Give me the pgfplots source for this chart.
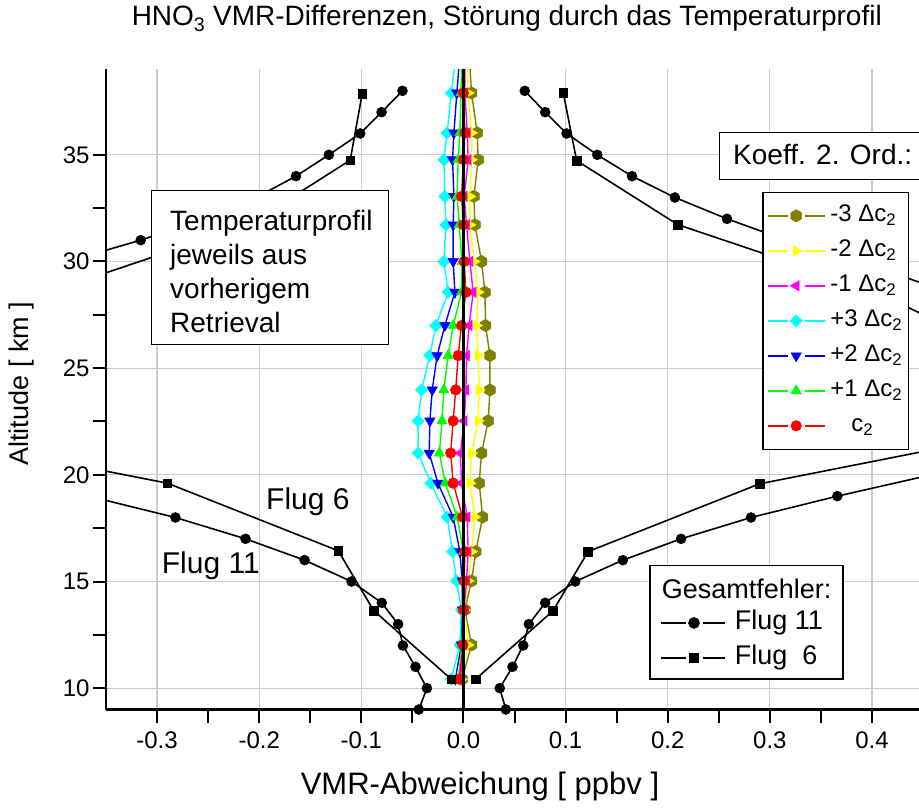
\documentclass[border=0pt]{standalone}
\usepackage{fontspec}
\setmainfont{Liberation Sans}
\setsansfont{Liberation Sans}
\usepackage{pgfplots}
\pgfplotsset{compat=1.18}
\usetikzlibrary{plotmarks}

\pgfdeclareplotmark{hexagon*}{%
  \pgfpathmoveto{\pgfqpointpolar{90}{\pgfplotmarksize}}%
  \pgfpathlineto{\pgfqpointpolar{150}{\pgfplotmarksize}}%
  \pgfpathlineto{\pgfqpointpolar{210}{\pgfplotmarksize}}%
  \pgfpathlineto{\pgfqpointpolar{270}{\pgfplotmarksize}}%
  \pgfpathlineto{\pgfqpointpolar{330}{\pgfplotmarksize}}%
  \pgfpathlineto{\pgfqpointpolar{30}{\pgfplotmarksize}}%
  \pgfpathclose
  \pgfusepathqfillstroke}

\definecolor{olivec}{RGB}{128,128,0}
\definecolor{yellowc}{RGB}{255,255,0}
\definecolor{magentac}{RGB}{255,0,255}
\definecolor{cyanc}{RGB}{0,255,255}
\definecolor{bluec}{RGB}{0,0,255}
\definecolor{greenc}{RGB}{0,255,0}
\definecolor{redc}{RGB}{255,0,0}

\begin{document}
\begin{tikzpicture}
\begin{axis}[
  at={(0pt,0pt)}, anchor=south west,
  scale only axis, width=813pt, height=640pt,
  xmin=-0.35, xmax=0.446, ymin=9, ymax=39,
  axis x line*=bottom, axis y line*=left,
  axis line style={line width=2.2pt},
  xtick={-0.3,-0.2,-0.1,0,0.1,0.2,0.3,0.4},
  xticklabels={-0.3,-0.2,-0.1,0.0,0.1,0.2,0.3,0.4},
  ytick={10,15,20,25,30,35},
  yticklabels={10,15,20,25,30,35},
  minor x tick num=1, minor y tick num=1,
  tick align=outside,
  major tick length=13pt, minor tick length=13pt,
  tick style={black, line width=2pt},
  grid=major,
  major grid style={line width=1.2pt, gray!40},
  tick label style={font=\fontsize{24}{28}\selectfont},
  xticklabel style={yshift=-6pt},
  xlabel={VMR-Abweichung [ ppbv ]},
  ylabel={Altitude [ km ]},
  xlabel style={at={(axis description cs:0.46,-0.12)}, anchor=center, font=\fontsize{31}{36}\selectfont},
  ylabel style={at={(axis description cs:-0.1033,0.509)}, anchor=center, font=\fontsize{27}{32}\selectfont},
  title={HNO\textsubscript{3} VMR-Differenzen, Störung durch das Temperaturprofil},
  title style={at={(axis description cs:0.493,1.07)}, anchor=center, font=\fontsize{28}{33}\selectfont},
  legend style={at={(axis description cs:0.8073,0.8091)}, anchor=north west,
    draw=black, line width=1.3pt, fill=white,
    inner xsep=4pt, inner ysep=10pt, row sep=8pt, column sep=3pt,
    font=\fontsize{24}{28}\selectfont,
    nodes={inner sep=2pt, text height=17pt, text depth=6pt},
    cells={anchor=west}},
  legend image code/.code={%
    \draw[mark=none] (0pt,0pt) -- (20pt,0pt);
    \draw[mark=none] (37pt,0pt) -- (57pt,0pt);
    \draw plot coordinates {(28.5pt,0pt)};
  },
]
% colored series
\addplot[color=olivec, line width=1.4pt, mark=hexagon*, mark size=6.2pt, mark options={solid, fill=olivec, line width=0.5pt}] coordinates {
(-0.0015,10.42)(0.0079,12.03)(0.0014,13.67)(0.0079,15.03)(0.0121,16.40)(0.0187,18.02)(0.0154,19.61)(0.0177,21.02)(0.0242,22.53)(0.0259,23.98)(0.0259,25.59)(0.0216,27.00)(0.0210,28.56)(0.0177,30.00)(0.0112,31.72)(0.0102,33.05)(0.0144,34.77)(0.0134,36.03)(0.0079,37.90)(0.0060,39.40)};
\addlegendentry{-3 Δc\textsubscript{2}}
\addplot[color=yellowc, line width=1.4pt, mark=triangle*, mark size=6pt, mark options={solid, fill=yellowc, rotate=-90, line width=0.5pt}] coordinates {
(-0.0020,10.42)(0.0046,12.03)(0.0010,13.67)(0.0046,15.03)(0.0079,16.40)(0.0112,18.02)(0.0063,19.61)(0.0079,21.02)(0.0144,22.53)(0.0154,23.98)(0.0144,25.59)(0.0128,27.00)(0.0144,28.56)(0.0105,30.00)(0.0063,31.72)(0.0063,33.05)(0.0079,34.77)(0.0080,36.03)(0.0045,37.90)(0.0040,39.40)};
\addlegendentry{-2 Δc\textsubscript{2}}
\addplot[color=magentac, line width=1.4pt, mark=triangle*, mark size=6pt, mark options={solid, fill=magentac, rotate=90, line width=0.5pt}] coordinates {
(-0.0030,10.42)(0.0000,12.03)(0.0005,13.67)(0.0030,15.03)(0.0046,16.40)(0.0036,18.02)(-0.0019,19.61)(-0.0030,21.02)(0.0007,22.53)(0.0024,23.98)(0.0030,25.59)(0.0056,27.00)(0.0095,28.56)(0.0063,30.00)(0.0030,31.72)(0.0007,33.05)(0.0046,34.77)(0.0037,36.03)(0.0014,37.90)(0.0015,39.40)};
\addlegendentry{-1 Δc\textsubscript{2}}
\addplot[color=cyanc, line width=1.4pt, mark=square*, mark size=4.3pt, mark options={solid, fill=cyanc, rotate=45, line width=0.5pt}] coordinates {
(-0.0120,10.42)(-0.0035,12.03)(-0.0020,13.67)(-0.0068,15.03)(-0.0107,16.40)(-0.0160,18.02)(-0.0320,19.61)(-0.0444,21.02)(-0.0444,22.53)(-0.0410,23.98)(-0.0330,25.59)(-0.0270,27.00)(-0.0150,28.56)(-0.0192,30.00)(-0.0172,31.72)(-0.0182,33.05)(-0.0192,34.77)(-0.0160,36.03)(-0.0120,37.90)(-0.0080,39.40)};
\addlegendentry{+3 Δc\textsubscript{2}}
\addplot[color=bluec, line width=1.4pt, mark=triangle*, mark size=6pt, mark options={solid, fill=bluec, rotate=180, line width=0.5pt}] coordinates {
(-0.0080,10.42)(-0.0020,12.03)(-0.0010,13.67)(-0.0013,15.03)(-0.0035,16.40)(-0.0101,18.02)(-0.0250,19.61)(-0.0336,21.02)(-0.0329,22.53)(-0.0306,23.98)(-0.0258,25.59)(-0.0182,27.00)(-0.0084,28.56)(-0.0101,30.00)(-0.0101,31.72)(-0.0094,33.05)(-0.0107,34.77)(-0.0094,36.03)(-0.0065,37.90)(-0.0040,39.40)};
\addlegendentry{+2 Δc\textsubscript{2}}
\addplot[color=greenc, line width=1.4pt, mark=triangle*, mark size=6pt, mark options={solid, fill=greenc, line width=0.5pt}] coordinates {
(-0.0050,10.42)(-0.0015,12.03)(-0.0005,13.67)(0.0000,15.03)(0.0000,16.40)(-0.0062,18.02)(-0.0178,19.61)(-0.0236,21.02)(-0.0210,22.53)(-0.0192,23.98)(-0.0150,25.59)(-0.0101,27.00)(-0.0019,28.56)(-0.0015,30.00)(-0.0042,31.72)(-0.0062,33.05)(-0.0052,34.77)(-0.0035,36.03)(-0.0025,37.90)(-0.0015,39.40)};
\addlegendentry{+1 Δc\textsubscript{2}}
\addplot[color=redc, line width=1.4pt, mark=*, mark size=5.3pt, mark options={solid, fill=redc, line width=0.5pt}] coordinates {
(-0.0040,10.42)(-0.0005,12.03)(0.0000,13.67)(0.0005,15.03)(0.0014,16.40)(-0.0009,18.02)(-0.0101,19.61)(-0.0125,21.02)(-0.0101,22.53)(-0.0076,23.98)(-0.0052,25.59)(-0.0019,27.00)(0.0024,28.56)(0.0007,30.00)(0.0000,31.72)(-0.0019,33.05)(0.0000,34.77)(0.0014,36.03)(0.0000,37.90)(0.0000,39.40)};
\addlegendentry{\hspace*{21pt}c\textsubscript{2}}
% Flug 11 (circles)
\addplot[black, line width=1.6pt, mark=*, mark size=5pt, mark options={solid, line width=0.5pt}, forget plot] coordinates {
(0.0415,9)(0.0355,10)(0.048,11)(0.0585,12)(0.064,13)(0.080,14)(0.1095,15)(0.156,16)(0.213,17)(0.2815,18)(0.366,19)(0.458,20)(0.54,21)(0.60,22)(0.64,23)(0.66,24)(0.66,25)(0.64,26)(0.60,27)(0.53,28)(0.448,29)(0.388,30)(0.316,31)(0.258,32)(0.207,33)(0.165,34)(0.131,35)(0.101,36)(0.080,37)(0.060,38)};
\addplot[black, line width=1.6pt, mark=*, mark size=5pt, mark options={solid, line width=0.5pt}, forget plot] coordinates {
(-0.0437,9)(-0.0358,10)(-0.047,11)(-0.0593,12)(-0.064,13)(-0.080,14)(-0.1096,15)(-0.1556,16)(-0.2134,17)(-0.282,18)(-0.367,19)(-0.458,20)(-0.54,21)(-0.60,22)(-0.64,23)(-0.66,24)(-0.66,25)(-0.64,26)(-0.60,27)(-0.53,28)(-0.448,29)(-0.388,30)(-0.316,31)(-0.255,32)(-0.203,33)(-0.164,34)(-0.1318,35)(-0.1011,36)(-0.0802,37)(-0.0597,38)};
% Flug 6 (squares)
\addplot[black, line width=1.6pt, mark=square*, mark size=4.4pt, mark options={solid, line width=0.5pt}, forget plot] coordinates {
(0.0118,10.42)(0.0876,13.62)(0.1219,16.40)(0.290,19.58)(0.62,22.7)(0.53,25.7)(0.3976,28.7)(0.2097,31.73)(0.1108,34.73)(0.0977,37.9)};
\addplot[black, line width=1.6pt, mark=square*, mark size=4.4pt, mark options={solid, line width=0.5pt}, forget plot] coordinates {
(-0.012,10.42)(-0.088,13.64)(-0.1226,16.44)(-0.290,19.61)(-0.62,22.7)(-0.53,25.7)(-0.3976,28.7)(-0.21,31.73)(-0.1109,34.75)(-0.0991,37.88)};
\node[anchor=base west, inner sep=0pt, font=\fontsize{30}{36}\selectfont] at (axis description cs:0.1968,0.3125) {Flug 6};
\node[anchor=base west, inner sep=0pt, font=\fontsize{30}{36}\selectfont] at (axis description cs:0.0685,0.213) {Flug 11};
\end{axis}
\begin{axis}[
  at={(0pt,0pt)}, anchor=south west,
  scale only axis, width=813pt, height=640pt,
  xmin=-0.35, xmax=0.446, ymin=9, ymax=39,
  hide axis,
  legend style={at={(axis description cs:0.6814,0.159)}, anchor=north west,
    draw=none, fill=none, inner xsep=0pt, inner ysep=0pt, row sep=5pt, column sep=7pt,
    font=\fontsize{27}{32}\selectfont,
    nodes={inner sep=2pt, text height=20pt, text depth=6pt},
    cells={anchor=west}},
  legend image code/.code={%
    \draw[mark=none] (0pt,0pt) -- (25pt,0pt);
    \draw[mark=none] (42pt,0pt) -- (64pt,0pt);
    \draw plot coordinates {(33pt,0pt)};
  },
]
% zero line on top of the coloured markers
\addplot[black, line width=2.8pt, forget plot] coordinates {(0,9)(0,39)};
% annotation boxes (drawn above the data of the first axis)
\node[draw, fill=white, line width=1.3pt, anchor=north west, minimum width=237pt, minimum height=154pt, inner sep=0pt] at (axis description cs:0.05535,0.8117) {};
\node[anchor=north west, align=left, inner sep=0pt, font=\fontsize{28}{34}\selectfont] at (axis description cs:0.0787,0.7805) {Temperaturprofil\\jeweils aus\\vorherigem\\Retrieval};
\node[draw, fill=white, line width=1.3pt, anchor=north west, minimum width=200pt, minimum height=47.3pt, inner sep=0pt] at (axis description cs:0.7536,0.9028) {};
\node[anchor=base west, inner sep=0pt, font=\fontsize{28}{34}\selectfont] at (axis description cs:0.7712,0.8523) {Koeff. 2. Ord.:};
\node[draw, fill=white, line width=1.3pt, anchor=north west, minimum width=193pt, minimum height=113.3pt, inner sep=0pt] at (axis description cs:0.6683,0.2258) {};
\node[anchor=base west, inner sep=0pt, font=\fontsize{27}{32}\selectfont] at (axis description cs:0.6835,0.1738) {Gesamtfehler:};
\addlegendimage{black, line width=1.6pt, mark=*, mark size=5pt, mark options={solid}}
\addlegendentry{Flug 11}
\addlegendimage{black, line width=1.6pt, mark=square*, mark size=4.5pt, mark options={solid}}
\addlegendentry{Flug\ \ 6}
\end{axis}
\pgfresetboundingbox
\path[use as bounding box] (-106pt,-99.5pt) rectangle (813pt,709.5pt);
\end{tikzpicture}
\end{document}
